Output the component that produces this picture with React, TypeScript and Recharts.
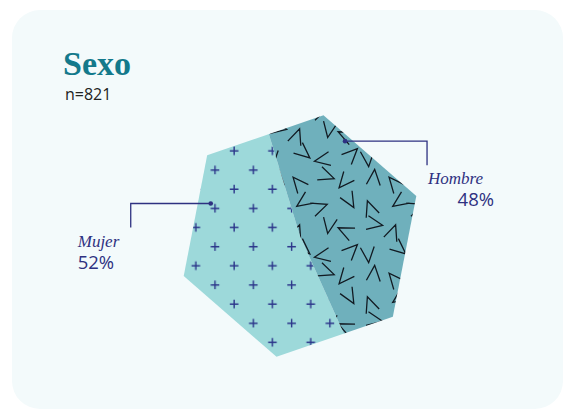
import React from 'react';
import { PieChart, Pie, Cell } from 'recharts';

const title = 'Sexo';
const sampleSize = 'n=821';
const categories = ['Mujer', 'Hombre'];
const values = [52, 48];
const percentLabels = ['52%', '48%'];

const data = categories.map((name, i) => ({ name, value: values[i], label: percentLabels[i] }));

const W = 564;
const H = 410;
const CX = 300;
const CY = 236;
const HEX_R = 123;
const HEX_ROT = 19;
const RAD = Math.PI / 180;
const NAVY = '#2e3181';

const polar = (cx: number, cy: number, r: number, deg: number) => ({
  x: cx + r * Math.cos(deg * RAD),
  y: cy - r * Math.sin(deg * RAD),
});

const hexPoints = Array.from({ length: 6 }, (_, k) => polar(CX, CY, HEX_R, HEX_ROT + 60 * k))
  .map((p) => `${p.x.toFixed(2)},${p.y.toFixed(2)}`)
  .join(' ');

// decorative chevron texture: [centerX, centerY, direction] on a jittered grid
const chevrons: [number, number, number][] = [
  [15, 10, 35], [32, 15, 200], [62, 9, 120], [82, 16, 290],
  [9, 40, 250], [41, 34, 80], [57, 39, 335], [87, 32, 170],
  [16, 57, 140], [34, 64, 10], [64, 58, 225], [80, 63, 95],
  [10, 87, 310], [39, 80, 160], [56, 86, 50], [86, 81, 265],
];
const TILE = 96;
const ARM = 17;
const HALF_OPEN = 24;
const chevPath = ([cx, cy, t]: [number, number, number], ox: number, oy: number) => {
  const v = polar(cx + ox, cy + oy, -ARM * 0.45, t);
  const a = polar(v.x, v.y, ARM, t + HALF_OPEN);
  const b = polar(v.x, v.y, ARM, t - HALF_OPEN);
  return `M${a.x.toFixed(2)},${a.y.toFixed(2)}L${v.x.toFixed(2)},${v.y.toFixed(2)}L${b.x.toFixed(2)},${b.y.toFixed(2)}`;
};
const OFFS = [-TILE, 0, TILE];
const chevD = chevrons
  .map((c) => OFFS.map((ox) => OFFS.map((oy) => chevPath(c, ox, oy)).join('')).join(''))
  .join('');

const PLUS_TILE = 38.3;
const plusPath = (x: number, y: number) => `M${x - 4.3},${y}H${x + 4.3}M${x},${y - 4.3}V${y + 4.3}`;

const LABEL_CFG = [
  { angleOffset: -40.6, radius: 95, dir: -1, hLen: 80, vLen: 24 },
  { angleOffset: 44, radius: 105, dir: 1, hLen: 82, vLen: 24 },
];

const renderLabel = (props: any) => {
  const { cx, cy, midAngle, index } = props;
  const c = LABEL_CFG[index];
  const d = polar(cx, cy, c.radius, midAngle + c.angleOffset);
  const ex = d.x + c.dir * c.hLen;
  const ey = d.y + c.vLen;
  const item = data[index];
  const nameStyle = { fontFamily: '"Liberation Serif", serif', fontStyle: 'italic', fontSize: 17 } as const;
  const pctStyle = { fontFamily: '"Open Sans", sans-serif', fontSize: 18.5 } as const;
  return (
    <g>
      <path d={`M${d.x},${d.y}H${ex}V${ey}`} stroke={NAVY} strokeWidth={1.3} fill="none" />
      <circle cx={d.x} cy={d.y} r={2.3} fill={NAVY} />
      {c.dir < 0 ? (
        <>
          <text x={ex - 53} y={ey + 19} fill={NAVY} style={nameStyle}>{item.name}</text>
          <text x={ex - 53} y={ey + 41} fill={NAVY} style={pctStyle}>{item.label}</text>
        </>
      ) : (
        <>
          <text x={ex + 1} y={ey + 19} fill={NAVY} style={nameStyle}>{item.name}</text>
          <text x={ex + 67} y={ey + 41} fill={NAVY} textAnchor="end" style={pctStyle}>{item.label}</text>
        </>
      )}
    </g>
  );
};

const fills = ['url(#plusPattern)', 'url(#chevPattern)'];

export default function App() {
  return (
    <div style={{ position: 'absolute', left: 0, top: 0, width: W, height: H, background: '#ffffff', overflow: 'hidden' }}>
      <div
        style={{
          position: 'absolute',
          left: 12,
          top: 10,
          width: 551,
          height: 399,
          borderRadius: 28,
          background: '#f3fafb',
        }}
      />
      <div style={{ position: 'absolute', left: 0, top: 0 }}>
        <PieChart width={W} height={H} margin={{ top: 0, right: 0, bottom: 0, left: 0 }}>
          <defs>
            <clipPath id="hexClip">
              <polygon points={hexPoints} />
            </clipPath>
            <pattern id="plusPattern" patternUnits="userSpaceOnUse" x={205.5} y={160.5} width={PLUS_TILE} height={PLUS_TILE}>
              <rect x={0} y={0} width={PLUS_TILE} height={PLUS_TILE} fill="#9dd9da" />
              <path d={plusPath(9.5, 9.5) + plusPath(28.65, 28.65)} stroke="#2b358a" strokeWidth={1.4} fill="none" />
            </pattern>
            <pattern id="chevPattern" patternUnits="userSpaceOnUse" x={0} y={0} width={TILE} height={TILE}>
              <rect x={0} y={0} width={TILE} height={TILE} fill="#6fb0bc" />
              <path d={chevD} stroke="#111a22" strokeWidth={1.3} fill="none" />
            </pattern>
          </defs>
          <Pie
            data={data}
            dataKey="value"
            nameKey="name"
            cx={CX}
            cy={CY}
            innerRadius={0}
            outerRadius={145}
            startAngle={107}
            endAngle={467}
            stroke="none"
            label={renderLabel}
            labelLine={false}
            isAnimationActive={false}
          >
            {data.map((d, i) => (
              <Cell key={d.name} fill={fills[i]} stroke="none" clipPath="url(#hexClip)" />
            ))}
          </Pie>
        </PieChart>
      </div>
      <svg width={W} height={H} style={{ position: 'absolute', left: 0, top: 0, pointerEvents: 'none' }}>
        <text x={63} y={75} fill="#13798b" style={{ fontFamily: '"Liberation Serif", serif', fontWeight: 700, fontSize: 34 }}>
          {title}
        </text>
        <text x={65} y={100} fill="#222222" style={{ fontFamily: '"Open Sans", sans-serif', fontSize: 16 }}>
          {sampleSize}
        </text>
      </svg>
    </div>
  );
}
